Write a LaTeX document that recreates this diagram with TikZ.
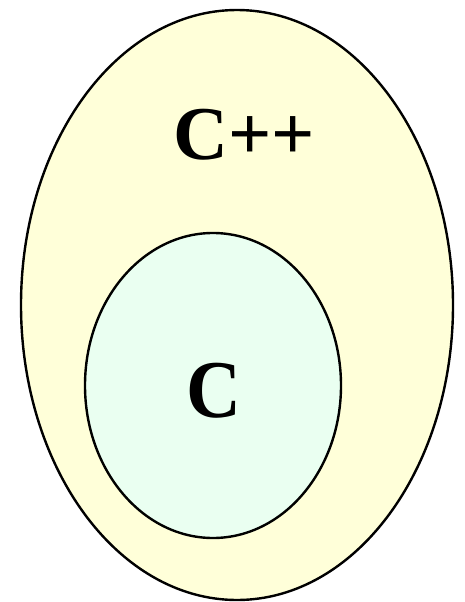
\documentclass[tikz,border=0pt]{standalone}
\usepackage{fontspec}
\setmainfont{Liberation Serif}
\definecolor{outerfill}{HTML}{FFFFD9}
\definecolor{innerfill}{HTML}{EAFFF1}
\begin{document}
\begin{tikzpicture}[x=1pt,y=-1pt,
  setline/.style={draw=black,line width=2.4pt},
  lbl/.style={font=\fontsize{76}{76}\selectfont\bfseries,anchor=base,inner sep=0pt}]
\useasboundingbox (0,0) rectangle (464,602);
\draw[setline,fill=outerfill] (237,305) ellipse [x radius=216pt, y radius=295pt];
\draw[setline,fill=innerfill] (213,385.5) ellipse [x radius=128pt, y radius=152.5pt];
\node[lbl] (cpp) at (244,159) {C++};
\node[lbl,yscale=1.08] (c) at (214,417) {C};
\end{tikzpicture}
\end{document}
